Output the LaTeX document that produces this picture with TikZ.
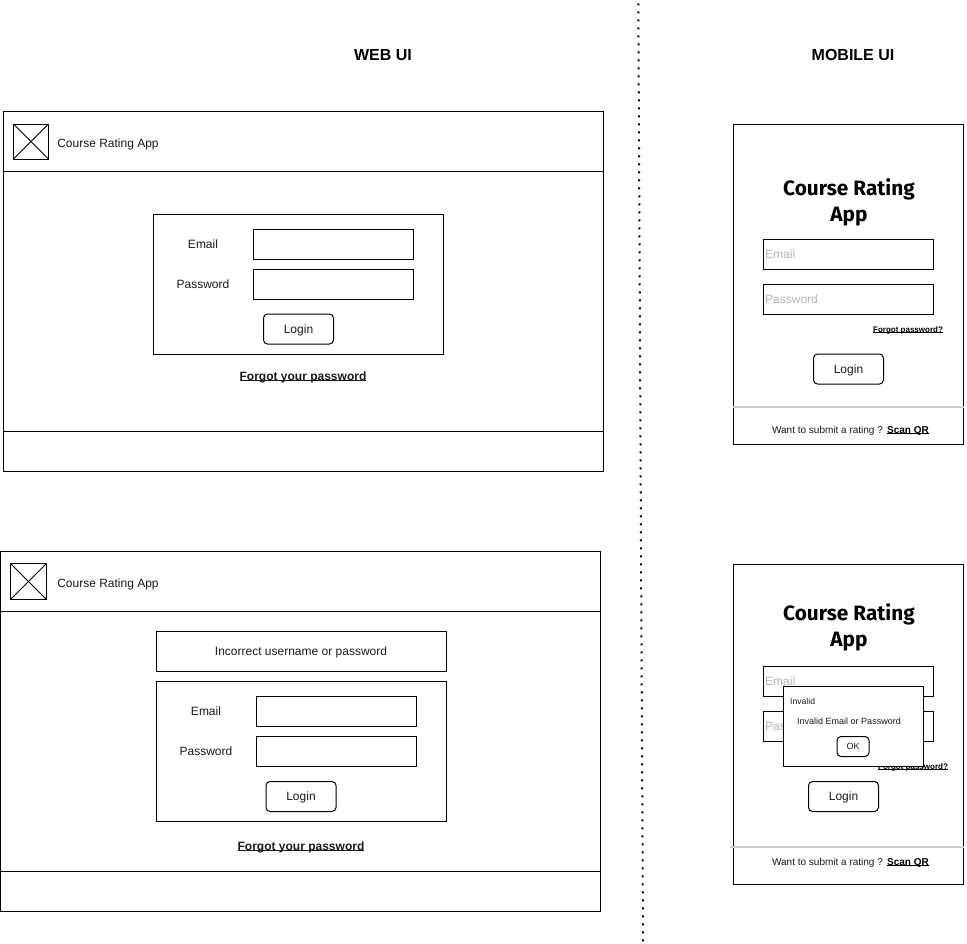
\documentclass[tikz,border=0pt]{standalone}
\usepackage{fontspec}
\setmainfont{Liberation Sans}
\newfontfamily\titlefont{Fira Sans}
\definecolor{ink}{HTML}{1A1A1A}
\definecolor{phold}{HTML}{B3B3B3}
\definecolor{sepgray}{HTML}{CCCCCC}
\newcommand{\fs}[1]{\fontsize{#1}{#1}\selectfont}
% tight underline that does not add to the depth of the node
\newsavebox{\ulbox}
\newcommand{\tightul}[1]{\sbox{\ulbox}{#1}\rlap{\rule[-1.3pt]{\wd\ulbox}{0.9pt}}\usebox{\ulbox}}
% \bx[style]{name}{x}{y}{w}{h}{text}
\newcommand{\bx}[7][]{\node[boxbase,#1,minimum width=#5pt,minimum height=#6pt] (#2) at (#3,#4) {#7};}
\tikzset{
  x=1pt,y=-1pt,
  boxbase/.style={draw=black,line width=1pt,fill=white,rectangle,anchor=north west,inner sep=0pt,outer sep=0pt,text=ink,font=\fs{12},text height=10pt,text depth=2pt},
  btn/.style={rounded corners=4pt},
  label/.style={text=ink,font=\fs{12},inner sep=0pt,anchor=base},
  small/.style={label,font=\fs{10}},
  linkw/.style={label,font=\fs{12}\bfseries,text=ink},
  links/.style={label,font=\fs{10}\bfseries,text=black},
  linkt/.style={label,font=\fs{8}\bfseries,text=black},
  heading/.style={label,font=\fs{16}\bfseries,text=black},
  apptitle/.style={text=black,inner sep=0pt,anchor=center,font=\titlefont\fs{20.8}\bfseries,align=center},
  placeholder/.style={label,anchor=base west,text=phold},
  sepline/.style={draw=sepgray,line width=2pt},
  divider/.style={draw=black,line width=2pt,dash pattern=on 2pt off 6pt},
  rule/.style={draw=black,line width=1pt},
}
\begin{document}
\begin{tikzpicture}
\useasboundingbox (0,0) rectangle (967,943);
% divider
\coordinate (divtop) at (638.3,3.3);
\coordinate (divbot) at (643,943);
\draw[divider] (divtop) -- (divbot);
\node[heading] (webui) at (383,60.5) {WEB UI};
\node[heading] (mobui) at (853,60.5) {MOBILE UI};

% ---- web 1
\bx{wa}{3.5}{111.5}{600}{360}{}
\coordinate (wah) at (3.5,171.5); \coordinate (wahe) at (603.5,171.5);
\coordinate (waf) at (3.5,431.5); \coordinate (wafe) at (603.5,431.5);
\draw[rule] (wah) -- (wahe);
\draw[rule] (waf) -- (wafe);
\bx{waicon}{13.5}{124}{35}{35}{}
\draw[rule] (waicon.north west) -- (waicon.south east);
\draw[rule] (waicon.south west) -- (waicon.north east);
\node[label] (watitle) at (108,147) {Course Rating App};
\bx{waform}{153.5}{214}{290}{140}{}
\bx{waemail}{253.5}{229}{160}{30}{}
\bx{wapass}{253.5}{269}{160}{30}{}
\node[label] (waemaill) at (203,248) {Email};
\node[label] (wapassl) at (203,288) {Password};
\bx[btn]{walogin}{263.5}{314}{70}{30}{Login}
\node[linkw] (waforgot) at (303,380) {\tightul{Forgot your password}};

% ---- web 2
\bx{wb}{0.5}{551.5}{600}{360}{}
\coordinate (wbh) at (0.5,611.5); \coordinate (wbhe) at (600.5,611.5);
\coordinate (wbf) at (0.5,871.5); \coordinate (wbfe) at (600.5,871.5);
\draw[rule] (wbh) -- (wbhe);
\draw[rule] (wbf) -- (wbfe);
\bx{wbicon}{10.5}{563.5}{36}{36}{}
\draw[rule] (wbicon.north west) -- (wbicon.south east);
\draw[rule] (wbicon.south west) -- (wbicon.north east);
\node[label] (wbtitle) at (108,587) {Course Rating App};
\bx{wbalert}{156}{631.5}{290}{40}{Incorrect username or password}
\bx{wbform}{156}{681.5}{290}{140}{}
\bx{wbemail}{256}{696.5}{160}{30}{}
\bx{wbpass}{256}{736.5}{160}{30}{}
\node[label] (wbemaill) at (206,715) {Email};
\node[label] (wbpassl) at (206,755) {Password};
\bx[btn]{wblogin}{266}{781.5}{70}{30}{Login}
\node[linkw] (wbforgot) at (301,850) {\tightul{Forgot your password}};

% ---- mobile 1
\bx{ma}{733.5}{124}{230}{320}{}
\coordinate (masep) at (733,407); \coordinate (masepe) at (964,407);
\draw[sepline] (masep) -- (masepe);
\node[apptitle] (matitle) at (849,202.5) {Course Rating\\[4.5pt]App};
\bx{maemail}{763.5}{239}{170}{30}{}
\bx{mapass}{763.5}{284}{170}{30}{}
\node[placeholder] (maemailp) at (765,258) {Email};
\node[placeholder] (mapassp) at (765,303) {Password};
\node[linkt] (maforgot) at (908,332) {\tightul{Forgot password?}};
\bx[btn]{malogin}{813.5}{354}{70}{30}{Login}
\node[small] (mawant) at (827.5,433) {Want to submit a rating ?};
\node[links] (mascan) at (908,433) {\tightul{Scan QR}};

% ---- mobile 2
\bx{mb}{733.5}{564}{230}{320}{}
\coordinate (mbsep) at (730,847); \coordinate (mbsepe) at (964,847);
\draw[sepline] (mbsep) -- (mbsepe);
\node[apptitle] (mbtitle) at (849,627.5) {Course Rating\\[4.5pt]App};
\bx{mbemail}{763.5}{666.5}{170}{30}{}
\bx{mbpass}{763.5}{711.5}{170}{30}{}
\node[placeholder] (mbemailp) at (765,685.5) {Email};
\node[placeholder] (mbpassp) at (765,730.5) {Password};
\node[linkt] (mbforgot) at (913,769) {\tightul{Forgot password?}};
\bx{mbpopup}{783.5}{686.5}{140}{80}{}
\node[label,font=\fs{8.6},anchor=base west] (mbinv) at (790,704) {Invalid};
\node[label,font=\fs{9}] (mbmsg) at (849,724) {Invalid Email or Password};
\bx[btn,font=\fs{9},text height=8pt,text depth=2pt]{mbok}{837}{736.5}{32}{20}{OK}
\bx[btn]{mblogin}{808.5}{781.5}{70}{30}{Login}
\node[small] (mbwant) at (827.5,865) {Want to submit a rating ?};
\node[links] (mbscan) at (908,865) {\tightul{Scan QR}};
\end{tikzpicture}
\end{document}
